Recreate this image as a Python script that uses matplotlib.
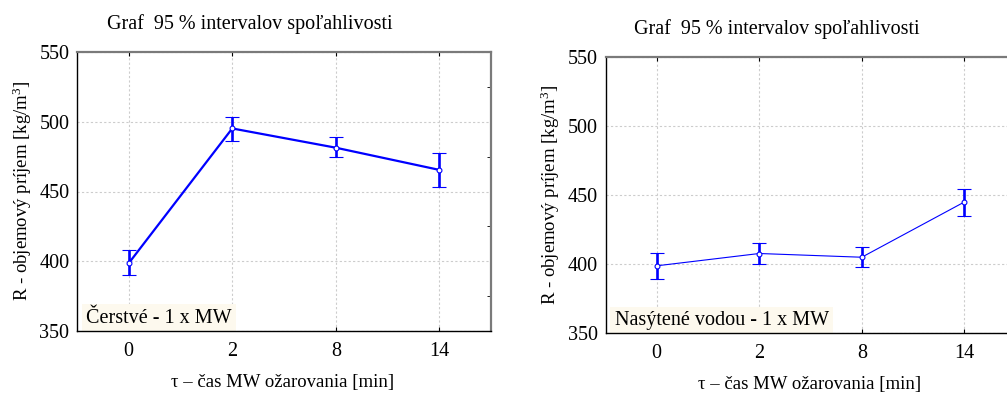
import matplotlib.pyplot as plt
import numpy as np
from matplotlib.ticker import MultipleLocator

plt.rcParams['font.family'] = ['Liberation Serif', 'DejaVu Serif']
plt.rcParams['mathtext.fontset'] = 'custom'
plt.rcParams['mathtext.rm'] = 'Liberation Serif'
plt.rcParams['mathtext.it'] = 'Liberation Serif:italic'

# data
time_labels = ['0', '2', '8', '14']

fresh_mean = [398.6, 495.2, 481.4, 465.5]
fresh_low = [389.8, 486.2, 474.5, 453.0]
fresh_high = [408.4, 503.6, 488.8, 477.9]

wet_mean = [398.8, 407.7, 405.0, 444.9]
wet_low = [389.6, 400.2, 398.0, 434.5]
wet_high = [408.0, 415.2, 412.1, 454.5]

title = 'Graf  95 % intervalov spoľahlivosti'
ylabel = 'R - objemový príjem [kg/m$^\\mathrm{3}$]'
xlabel = 'τ – čas MW ožarovania [min]'
box_labels = ['Čerstvé - 1 x MW', 'Nasýtené vodou - 1 x MW']

W, H = 1007, 397
fig = plt.figure(figsize=(W / 100, H / 100), dpi=100)

blue = '#0000ff'


def panel(rect, mean, low, high, lw, label):
    ax = fig.add_axes(rect)
    x = np.arange(len(mean))
    mean = np.array(mean)
    yerr = [mean - np.array(low), np.array(high) - mean]
    ax.errorbar(x, mean, yerr=yerr, color=blue, lw=lw, elinewidth=1.9,
                capsize=4.8, capthick=1.9, marker='o', ms=3.5,
                mfc='white', mec=blue, mew=0.8, zorder=3)
    ax.set_xlim(-0.5, 3.5)
    ax.set_ylim(350, 550)
    ax.set_xticks(x)
    ax.set_xticklabels(time_labels)
    ax.yaxis.set_major_locator(MultipleLocator(50))
    ax.grid(True, color='#cccccc', lw=0.8, ls=(0, (2, 2)))
    ax.set_axisbelow(True)
    for s in ['left', 'bottom']:
        ax.spines[s].set_color('black')
        ax.spines[s].set_linewidth(1.0)
    for s in ['top', 'right']:
        ax.spines[s].set_color('#7a7a7a')
        ax.spines[s].set_linewidth(1.6)
    ax.tick_params(axis='y', left=False, right=False, labelsize=14.5, pad=2)
    ax.tick_params(axis='x', direction='in', top=True, length=3, labelsize=14.5, pad=8)
    # minor inward ticks on the right spine
    ax.yaxis.set_minor_locator(MultipleLocator(25))
    ax.tick_params(axis='y', which='minor', left=False, right=True,
                   direction='in', length=3)
    ax.text(0.022, 0.012, label, transform=ax.transAxes, fontsize=14.5,
            va='bottom', ha='left', zorder=2,
            bbox=dict(boxstyle='square,pad=0.22', fc='#fdf9ee', ec='none'))
    return ax


panel([77 / W, 1 - 331 / H, 414 / W, 279 / H],
      fresh_mean, fresh_low, fresh_high, 1.6, box_labels[0])
ax2 = panel([605.5 / W, 1 - 333.3 / H, 410 / W, 276.6 / H],
            wet_mean, wet_low, wet_high, 0.8, box_labels[1])
# right edge of this panel falls outside the picture
ax2.spines['right'].set_visible(False)
ax2.tick_params(axis='y', which='minor', right=False)

# titles and axis labels
fig.text(250 / W, 1 - 24 / H, title, ha='center', va='center', fontsize=14.5)
fig.text(777 / W, 1 - 29 / H, title, ha='center', va='center', fontsize=14.5)
fig.text(283 / W, 1 - 383 / H, xlabel, ha='center', va='center', fontsize=13.5)
fig.text(810 / W, 1 - 385 / H, xlabel, ha='center', va='center', fontsize=13.5)
fig.text(22 / W, 1 - 191 / H, ylabel, ha='center', va='center', rotation=90, fontsize=13.5)
fig.text(550 / W, 1 - 195 / H, ylabel, ha='center', va='center', rotation=90, fontsize=13.5)

fig.savefig('out.png', dpi=100)
